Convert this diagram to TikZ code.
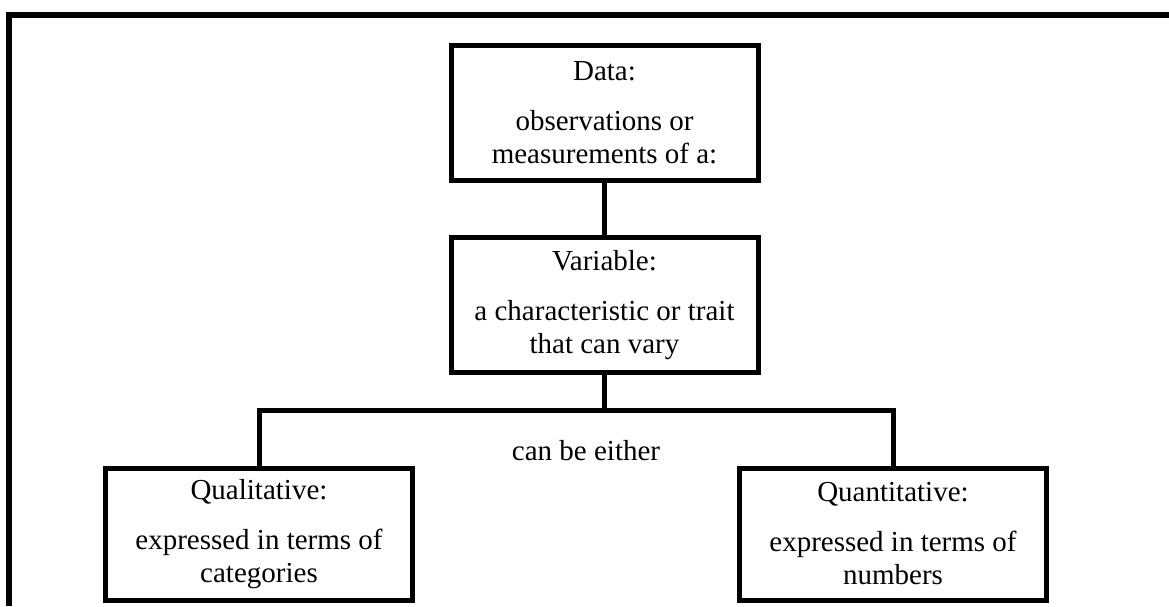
\documentclass[tikz,border=0pt]{standalone}
\usepackage{fontspec}
\setmainfont{Liberation Serif}
\usepackage{tikz}

\begin{document}
\begin{tikzpicture}[x=1pt,y=-1pt,
        every node/.style={font=\fontsize{29}{33}\selectfont},
        box/.style={
          draw=black, line width=5pt,
          minimum width=307pt, minimum height=135pt,
          inner sep=0pt, align=center,
        },
        link/.style={draw=black, line width=5pt},
        frame/.style={draw=black, line width=6pt},
      ]
      \useasboundingbox (0,0) rectangle (1169,606);
      \draw[frame] (9,606) -- (9,15) -- (1169,15);
      \node[box] (data) at (604.5,113) {Data:\\[17pt] observations or\\ measurements of a:};
      \node[box] (var)  at (604.5,305) {Variable:\\[17pt] a characteristic or trait\\ that can vary};
      \node[box, minimum height=132pt] (qual)  at (259,534) {Qualitative:\\[17pt] expressed in terms of\\ categories};
      \node[box, minimum height=132pt] (quant) at (893,534) {Quantitative:\\[17pt] expressed in terms of\\ numbers};
      \node[anchor=base] (either) at (586,460) {can be either};
      \coordinate (fork) at (604.5,410.5);
      \draw[link] (data.south) -- (var.north);
      \draw[link] (var.south) -- (fork);
      \draw[link] (qual.north) |- (fork) -| (quant.north);
    \end{tikzpicture}
\end{document}
